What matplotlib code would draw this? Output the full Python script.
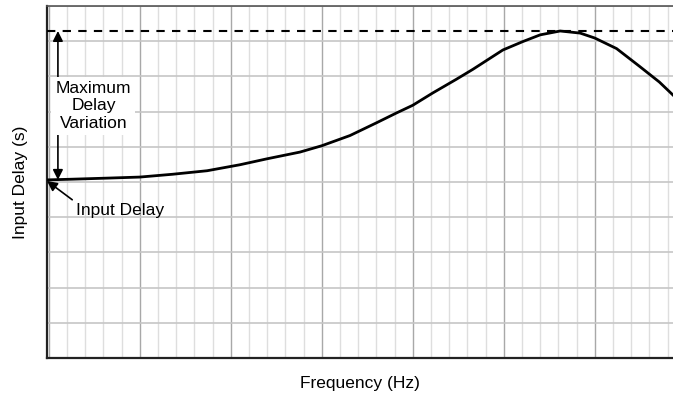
import numpy as np
import matplotlib.pyplot as plt
from matplotlib.ticker import MultipleLocator

plt.rcParams['font.family'] = ['Liberation Sans', 'DejaVu Sans']

# curve (arbitrary units, major grid = 1)
freq = [-0.02, 0.26, 0.64, 1.0, 1.36, 1.74, 2.10, 2.40, 2.76, 3.0, 3.31,
        3.60, 3.82, 4.0, 4.22, 4.48, 4.66, 4.99, 5.21, 5.40, 5.62, 5.84,
        6.0, 6.24, 6.49, 6.71, 6.86]
delay = [5.06, 5.08, 5.11, 5.14, 5.22, 5.32, 5.49, 5.66, 5.85, 6.03, 6.32,
         6.68, 6.96, 7.18, 7.53, 7.92, 8.20, 8.75, 8.99, 9.18, 9.29, 9.23,
         9.09, 8.79, 8.29, 7.84, 7.47]
input_delay = 5.06
max_delay = 9.29

fig = plt.figure(figsize=(6.73, 3.95), dpi=100)
ax = fig.add_axes([47 / 673, 37 / 395, 626 / 673, 352 / 395])
ax.set_xlim(-0.02, 6.86)
ax.set_ylim(0, 10)

ax.xaxis.set_major_locator(MultipleLocator(1))
ax.xaxis.set_minor_locator(MultipleLocator(0.2))
ax.yaxis.set_major_locator(MultipleLocator(1))
ax.grid(True, which='major', axis='x', color='#a8a8a8', lw=1)
ax.grid(True, which='minor', axis='x', color='#dedede', lw=1)
ax.grid(True, which='major', axis='y', color='#c6c6c6', lw=1.2)
ax.tick_params(which='both', length=0, labelbottom=False, labelleft=False)

for s in ['left', 'bottom']:
    ax.spines[s].set_linewidth(1.6)
    ax.spines[s].set_color('#222222')
ax.spines['top'].set_color('#555555')
ax.spines['top'].set_linewidth(1.2)
ax.spines['right'].set_visible(False)

ax.plot(freq, delay, color='black', lw=2, solid_joinstyle='round', zorder=3)
ax.axhline(max_delay, color='black', lw=1.5, ls=(0, (4, 3.5)), zorder=3)

# double arrow + label with white box
ax.annotate('', xy=(0.10, max_delay), xytext=(0.10, input_delay),
            arrowprops=dict(arrowstyle='<|-|>', color='black', lw=1.2,
                            mutation_scale=15, shrinkA=0, shrinkB=0),
            zorder=4)
ax.text(0.49, 7.16, 'Maximum\nDelay\nVariation', ha='center', va='center',
        fontsize=12.5, linespacing=1.2, zorder=5,
        bbox=dict(facecolor='white', edgecolor='none', pad=3))

ax.annotate('Input Delay', xy=(-0.02, input_delay - 0.03), xytext=(0.30, 4.2),
            ha='left', va='center', fontsize=12.5,
            arrowprops=dict(arrowstyle='-|>', color='black', lw=1.2,
                            mutation_scale=15, relpos=(0, 1),
                            shrinkA=1, shrinkB=0),
            zorder=5, annotation_clip=False)

ax.set_xlabel('Frequency (Hz)', fontsize=12.5)
ax.set_ylabel('Input Delay (s)', fontsize=12.5)
ax.xaxis.set_label_coords(0.5, -0.052)
ax.yaxis.set_label_coords(-0.030, 0.5)

fig.savefig('out.png', dpi=100)
